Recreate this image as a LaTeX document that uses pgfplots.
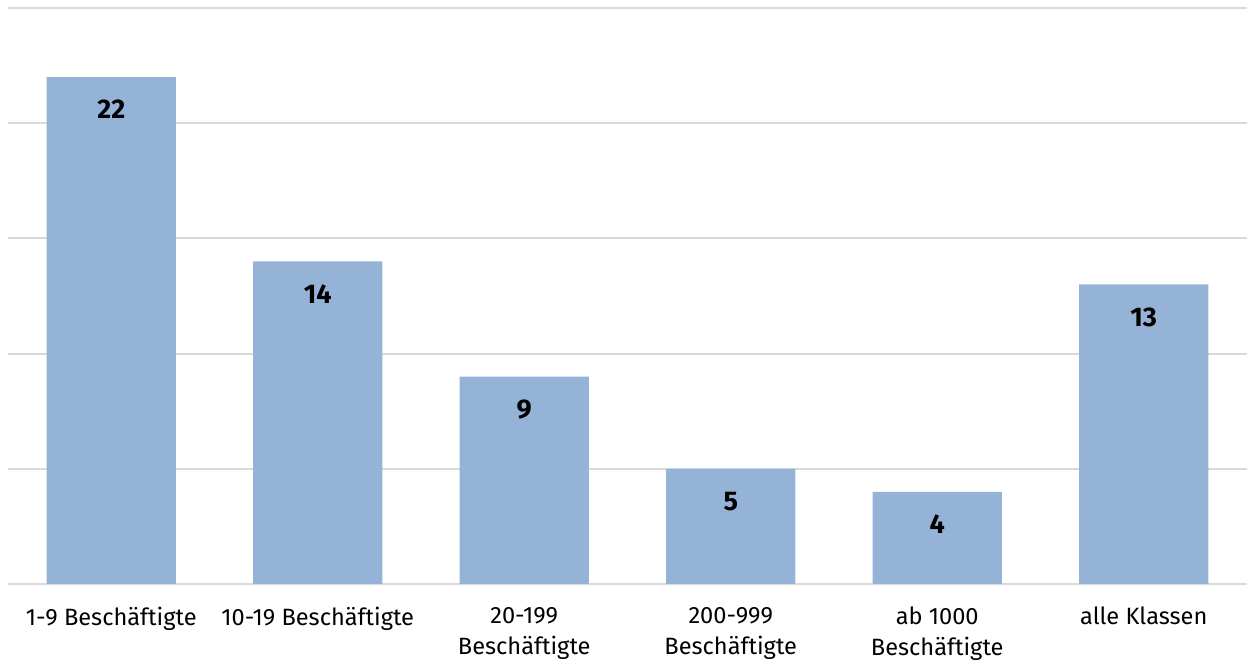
\documentclass[border=0pt]{standalone}
\usepackage{pgfplots}
\pgfplotsset{compat=1.18}
\usepackage{fontspec}
\setmainfont{Fira Sans}
\definecolor{barblue}{HTML}{95B3D7}
\definecolor{gridgray}{HTML}{D9D9D9}
\begin{document}
\begin{tikzpicture}
\begin{axis}[
    scale only axis,
    width=619.5pt, height=288pt,
    xmin=-0.5, xmax=5.5,
    ymin=0, ymax=25,
    ytick={0,5,10,15,20,25},
    yticklabels={},
    axis line style={draw=none},
    ymajorgrids=true,
    grid style={gridgray, line width=1pt},
    major tick length=0pt,
    xtick=data,
    xticklabels={1-9 Beschäftigte, 10-19 Beschäftigte, 20-199\\Beschäftigte, 200-999\\Beschäftigte, ab 1000\\Beschäftigte, alle Klassen},
    xticklabel style={align=center, font=\fontsize{11.8}{15.5}\selectfont, yshift=-8pt, text depth=0pt},
    ybar,
    bar width=64.5pt,
    /pgf/number format/assume math mode=true,
    nodes near coords,
    nodes near coords align={below},
    every node near coord/.append style={font=\fontsize{13.5}{16}\selectfont\bfseries, yshift=-8pt, black},
]
\addplot[fill=barblue, draw=none] coordinates {
    (0,22) (1,14) (2,9) (3,5) (4,4) (5,13)
};
\end{axis}
\pgfresetboundingbox
\useasboundingbox (-4pt,-39pt) rectangle (619.5pt,292pt);
\end{tikzpicture}
\end{document}
